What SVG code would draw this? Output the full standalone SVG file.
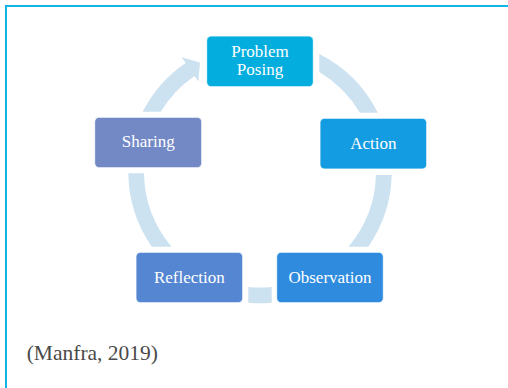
<svg xmlns="http://www.w3.org/2000/svg" width="508" height="388" viewBox="0 0 508 388">
<style>
.band{fill:#CCE2F1}
.box{stroke:#ffffff;stroke-width:0.8}
.lbl{font-family:"Liberation Serif","Times New Roman",serif;font-size:17px;fill:#ffffff;text-anchor:middle}
.cap{font-family:"Liberation Serif","Times New Roman",serif;font-size:21.5px;fill:#4a4a4a}
</style>
<rect width="508" height="388" fill="#ffffff"/>
<path d="M6,388 V6 H508" fill="none" stroke="#12B4E6" stroke-width="2"/>
<g id="connectors">
<path class="band" d="M319.3,54 A131.7,131.7 0 0 1 377.8,112.7 L359.9,112.7 A116,116 0 0 0 319.3,71.9 Z"/>
<path class="band" d="M391.7,175 A131.7,131.7 0 0 1 368.2,246.7 L348.4,246.7 A116,116 0 0 0 375.95,175 Z"/>
<path class="band" d="M271.7,302.8 A131.7,131.7 0 0 1 248.3,302.8 L248.3,287 A116,116 0 0 0 271.7,287 Z"/>
<path class="band" d="M151.8,246.7 A131.7,131.7 0 0 1 128.3,173.3 L144,173.3 A116,116 0 0 0 171.6,246.7 Z"/>
<path class="band" d="M142.7,111.7 A131.7,131.7 0 0 1 185.6,62.9 L181.7,57.3 L200,62.4 L198.3,81.5 L194.5,75.9 A116,116 0 0 0 160.7,111.7 Z"/>
</g>
<g id="problem-posing">
<rect class="box" x="206.7" y="36" width="106.6" height="50.7" rx="4.5" fill="#03AEDE"/>
<text class="lbl" x="260" y="57.3">Problem</text>
<text class="lbl" x="260" y="74.8">Posing</text>
</g>
<g id="action">
<rect class="box" x="320" y="118.3" width="106.7" height="50.7" rx="4.5" fill="#139CE1"/>
<text class="lbl" x="373.3" y="149">Action</text>
</g>
<g id="observation">
<rect class="box" x="276.7" y="252.3" width="106.6" height="50.4" rx="4.5" fill="#2E8BDE"/>
<text class="lbl" x="330" y="282.7">Observation</text>
</g>
<g id="reflection">
<rect class="box" x="136" y="252.3" width="106.7" height="50.4" rx="4.5" fill="#5586D1"/>
<text class="lbl" x="189.3" y="282.7">Reflection</text>
</g>
<g id="sharing">
<rect class="box" x="94.7" y="117.3" width="107" height="50.4" rx="4.5" fill="#7389C6"/>
<text class="lbl" x="148.2" y="147.3">Sharing</text>
</g>
<text class="cap" x="26.7" y="360">(Manfra, 2019)</text>
</svg>
